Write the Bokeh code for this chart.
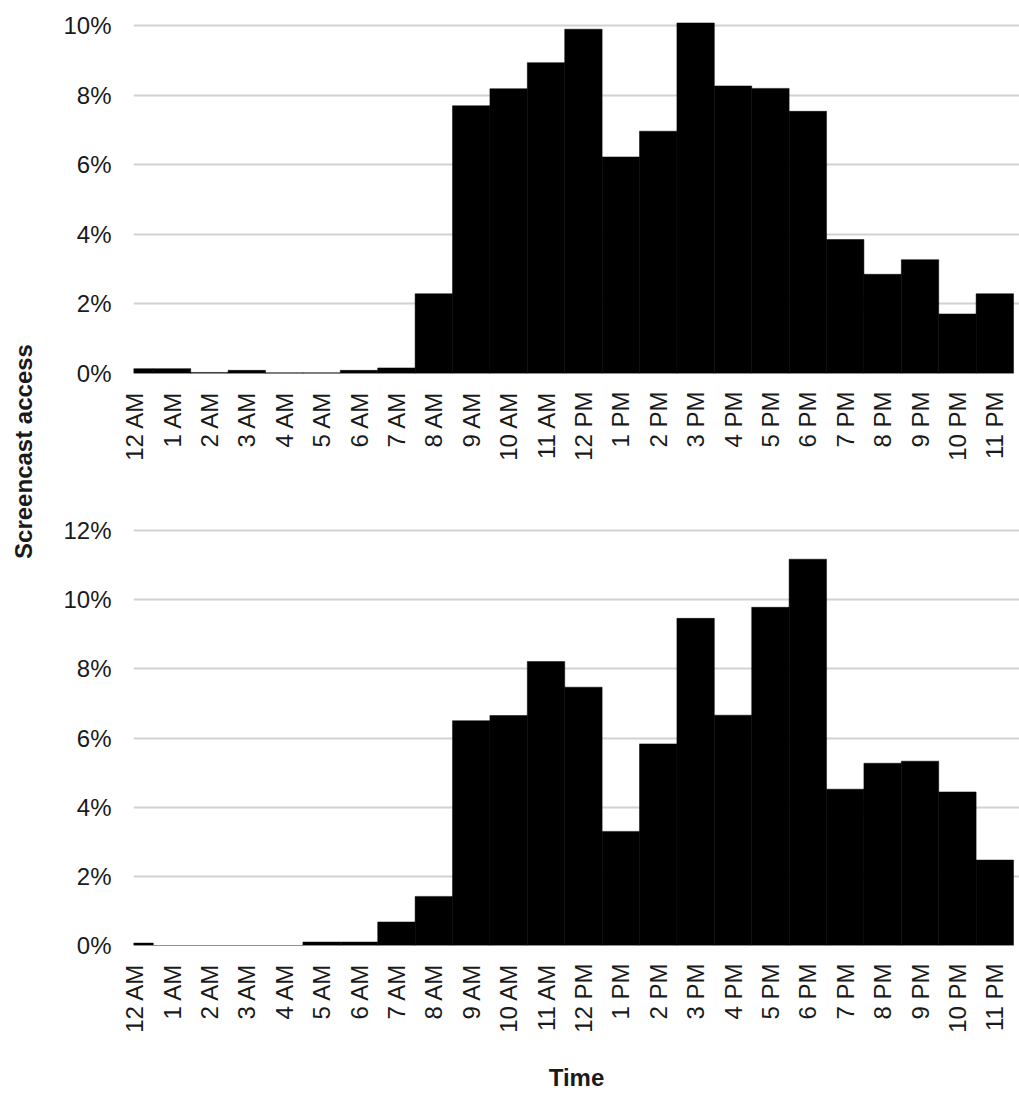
import math
from bokeh.plotting import figure
from bokeh.models import FixedTicker, PrintfTickFormatter, Range1d, Label, ColumnDataSource
from bokeh.layouts import row, column
from bokeh.embed import file_html
from bokeh.resources import INLINE

hours = ["12 AM", "1 AM", "2 AM", "3 AM", "4 AM", "5 AM", "6 AM", "7 AM", "8 AM",
         "9 AM", "10 AM", "11 AM", "12 PM", "1 PM", "2 PM", "3 PM", "4 PM", "5 PM",
         "6 PM", "7 PM", "8 PM", "9 PM", "10 PM", "11 PM"]

top_values = [0.14, 0.14, 0.03, 0.09, 0.02, 0.02, 0.09, 0.16, 2.29, 7.69, 8.18, 8.93,
              9.89, 6.22, 6.96, 10.07, 8.26, 8.19, 7.53, 3.85, 2.85, 3.27, 1.71, 2.29]

bottom_values = [0.07, 0.0, 0.0, 0.0, 0.0, 0.1, 0.1, 0.68, 1.42, 6.50, 6.65, 8.21,
                 7.47, 3.30, 5.83, 9.46, 6.66, 9.78, 11.17, 4.52, 5.27, 5.33, 4.44, 2.47]

top_yticks = [0, 2, 4, 6, 8, 10]
bottom_yticks = [0, 2, 4, 6, 8, 10, 12]

FONT = "Liberation Sans"
TXT = "#1a1a1a"


def make_chart(vals, ymax, yticks, height, btop, bbottom, xlabel=None):
    p = figure(width=971, height=height, output_backend="svg", toolbar_location=None,
               x_range=Range1d(-0.03, 23.66), y_range=Range1d(0, ymax),
               min_border_left=85, min_border_right=0,
               min_border_top=btop, min_border_bottom=bbottom)
    src = ColumnDataSource(dict(x=list(range(len(hours))), top=vals))
    p.vbar(x="x", top="top", width=1.0, source=src, fill_color="black",
           line_color="black", line_width=0.5)
    p.outline_line_color = None
    p.xgrid.visible = False
    p.ygrid.grid_line_color = "#d2d2d2"
    p.ygrid.grid_line_width = 2
    p.yaxis.ticker = FixedTicker(ticks=yticks)
    p.yaxis.formatter = PrintfTickFormatter(format="%d%%")
    p.xaxis.ticker = FixedTicker(ticks=list(range(len(hours))))
    p.xaxis.major_label_overrides = {i: h for i, h in enumerate(hours)}
    p.xaxis.major_label_orientation = math.pi / 2
    for ax in (p.xaxis, p.yaxis):
        ax.axis_line_color = None
        ax.major_tick_line_color = None
        ax.minor_tick_line_color = None
        ax.major_tick_out = 0
        ax.major_tick_in = 0
        ax.major_label_text_font = FONT
        ax.major_label_text_font_size = "24px"
        ax.major_label_text_color = TXT
    p.yaxis.major_label_standoff = 22
    p.xaxis.major_label_standoff = 18
    if xlabel:
        p.xaxis.axis_label = xlabel
        p.xaxis.axis_label_text_font = FONT
        p.xaxis.axis_label_text_font_size = "24px"
        p.xaxis.axis_label_text_font_style = "bold"
        p.xaxis.axis_label_text_color = TXT
        p.xaxis.axis_label_standoff = 28
    return p


TOTAL_H = 1093
top = make_chart(top_values, 10.37, top_yticks, 480, 12, 107)
bottom = make_chart(bottom_values, 12.29, bottom_yticks, 613, 40, 146, xlabel="Time")

lab = figure(width=48, height=TOTAL_H, output_backend="svg", toolbar_location=None,
             x_range=Range1d(0, 48), y_range=Range1d(0, TOTAL_H),
             x_axis_type=None, y_axis_type=None, min_border=0)
lab.outline_line_color = None
lab.grid.visible = False
lab.add_layout(Label(x=22.5, y=TOTAL_H - 451, text="Screencast access", angle=math.pi / 2,
                     text_align="center", text_baseline="middle", text_font=FONT,
                     text_font_size="24px", text_font_style="bold", text_color=TXT))

layout = row(lab, column(top, bottom))

open("out.html", "w").write(file_html(layout, INLINE))
